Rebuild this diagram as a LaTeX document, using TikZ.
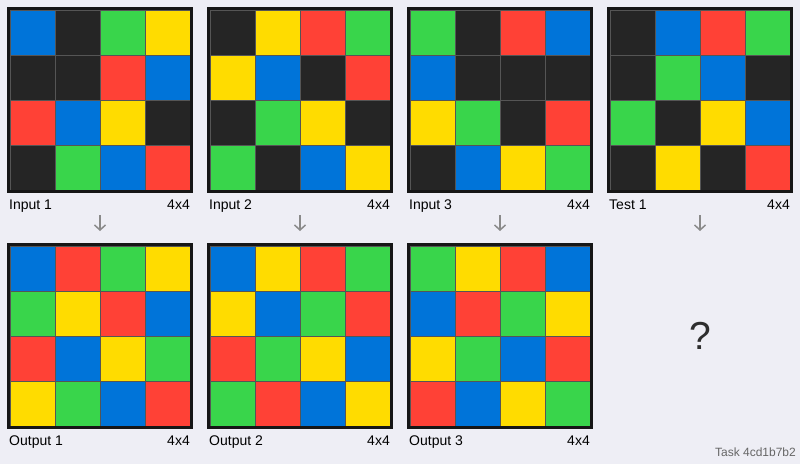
\documentclass[tikz,border=0pt]{standalone}
\usepackage{fontspec}
\setmainfont{Liberation Sans}
\usetikzlibrary{arrows.meta,positioning}

\definecolor{bgpage}{HTML}{EEEEF5}
\definecolor{arcK}{HTML}{252525}
\definecolor{arcB}{HTML}{0074D9}
\definecolor{arcG}{HTML}{39D54B}
\definecolor{arcY}{HTML}{FFDC00}
\definecolor{arcR}{HTML}{FF4136}
\definecolor{cellline}{HTML}{555555}
\definecolor{frameline}{HTML}{161616}
\definecolor{arrowgray}{HTML}{8A8A8A}

% #1 name, #2 left, #3 top, #4 title, #5 cells row by row
\newcommand{\arcgrid}[5]{%
  \foreach \c [count=\i from 0] in {#5} {
    \pgfmathtruncatemacro\gcol{mod(\i,4)}
    \pgfmathtruncatemacro\grow{div(\i,4)}
    \filldraw[fill=arc\c, draw=cellline, line width=0.5pt]
      ({#2+3+45*\gcol},{#3+3+45*\grow}) rectangle ++(45,45);
  }
  \node[gridframe] (#1) at ({#2+93},{#3+93}) {};
  \node[lbl, anchor=base west] (#1-name) at ({#2+2},{#3+202.5}) {#4};
  \node[lbl, anchor=base east] (#1-size) at ({#2+183},{#3+202.5}) {4x4};
}

\begin{document}
\begin{tikzpicture}[
  x=1pt, y=-1pt,
  gridframe/.style={draw=frameline, line width=3pt, minimum size=183pt, inner sep=0pt, rectangle},
  lbl/.style={font=\fontsize{14}{16}\selectfont, text=black, inner sep=0pt},
  down/.style={draw=arrowgray, line width=1.5pt, -{Straight Barb[length=5pt,width=11pt]},
    shorten <=22pt, shorten >=12pt}
]
\fill[bgpage] (0,0) rectangle (800,464);
\useasboundingbox (0,0) rectangle (800,464);

% inputs and test
\arcgrid{in1}{7}{7}{Input 1}{B,K,G,Y, K,K,R,B, R,B,Y,K, K,G,B,R}
\arcgrid{in2}{207}{7}{Input 2}{K,Y,R,G, Y,B,K,R, K,G,Y,K, G,K,B,Y}
\arcgrid{in3}{407}{7}{Input 3}{G,K,R,B, B,K,K,K, Y,G,K,R, K,B,Y,G}
\arcgrid{test1}{607}{7}{Test 1}{K,B,R,G, K,G,B,K, G,K,Y,B, K,Y,K,R}

% outputs
\arcgrid{out1}{7}{243}{Output 1}{B,R,G,Y, G,Y,R,B, R,B,Y,G, Y,G,B,R}
\arcgrid{out2}{207}{243}{Output 2}{B,Y,R,G, Y,B,G,R, R,G,Y,B, G,R,B,Y}
\arcgrid{out3}{407}{243}{Output 3}{G,Y,R,B, B,R,G,Y, Y,G,B,R, R,B,Y,G}

\coordinate (out4) at (700,243);
\node[font=\fontsize{39}{40}\selectfont, text=black!82] (qmark) at (700,336) {?};

\draw[down] (in1.south) -- (out1.north);
\draw[down] (in2.south) -- (out2.north);
\draw[down] (in3.south) -- (out3.north);
\draw[down] (test1.south) -- (out4);

\node[font=\fontsize{12}{14}\selectfont, text=black!60, anchor=base east, inner sep=0pt] (task) at (796,456.5) {Task 4cd1b7b2};
\end{tikzpicture}
\end{document}
